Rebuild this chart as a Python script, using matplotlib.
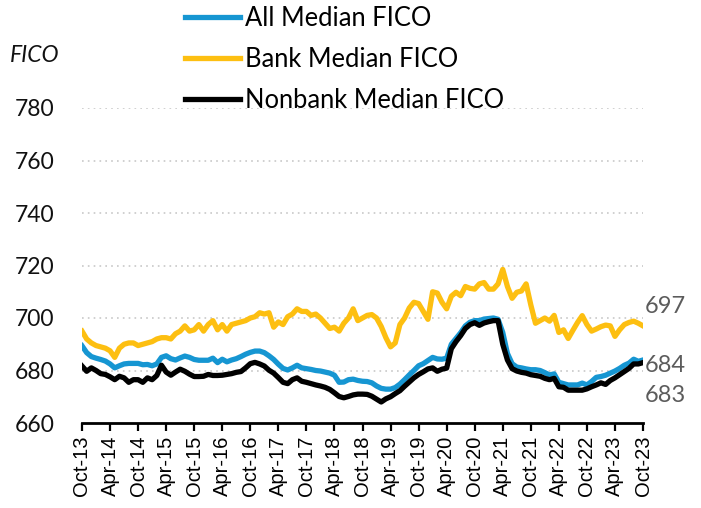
import numpy as np
import pandas as pd
import matplotlib
matplotlib.use('Agg')
import matplotlib.pyplot as plt

# monthly medians, Oct-13 to Oct-23
allMedian = [689.4, 686.8, 685.3, 684.7, 684.2, 683.6, 682.5, 681.0, 681.8, 682.5,
	682.7, 682.7, 682.7, 682.2, 682.3, 681.8, 682.5, 685.0, 685.6, 684.5,
	684.0, 684.8, 685.5, 685.0, 684.2, 683.9, 683.9, 683.9, 684.7, 683.0,
	684.3, 683.3, 684.0, 684.5, 685.3, 686.2, 686.9, 687.4, 687.4, 686.8,
	685.6, 684.2, 682.4, 680.8, 680.2, 681.0, 682.0, 681.0, 680.7, 680.4,
	680.0, 679.8, 679.4, 679.0, 678.2, 675.5, 675.6, 676.5, 676.7, 676.2,
	675.9, 675.8, 675.3, 674.1, 673.2, 672.9, 672.9, 673.5, 674.8, 676.5,
	678.3, 680.0, 681.8, 682.6, 683.8, 685.0, 684.4, 684.3, 684.7, 690.0,
	692.2, 694.4, 697.0, 698.4, 699.0, 699.0, 699.6, 699.8, 700.0, 699.5,
	694.5, 686.5, 682.6, 681.3, 681.0, 680.6, 680.3, 680.3, 680.0, 679.2,
	678.3, 678.7, 675.5, 675.0, 674.5, 674.5, 674.5, 675.2, 674.5, 675.8,
	677.4, 677.7, 678.2, 679.0, 679.8, 680.8, 682.0, 682.8, 684.3, 683.5,
	684.0]
bankMedian = [695.0, 692.0, 690.5, 689.5, 689.0, 688.5, 687.5, 685.0, 688.5, 690.0,
	690.5, 690.5, 689.5, 690.0, 690.5, 691.0, 692.0, 692.5, 692.5, 692.0,
	694.0, 695.0, 697.0, 695.0, 695.5, 697.5, 695.0, 697.5, 699.0, 695.5,
	697.5, 695.0, 697.5, 698.0, 698.5, 699.0, 700.0, 700.5, 702.0, 701.5,
	702.0, 696.5, 698.5, 697.5, 700.5, 701.5, 703.5, 702.5, 702.5, 701.0,
	701.5, 700.0, 698.0, 696.0, 696.5, 695.0, 698.0, 700.0, 703.5, 699.0,
	700.0, 701.0, 701.3, 700.0, 696.8, 692.5, 689.0, 690.5, 697.5, 700.0,
	703.8, 706.0, 705.5, 702.5, 699.5, 710.0, 709.5, 706.0, 703.5, 708.3,
	709.8, 708.5, 712.0, 711.3, 711.0, 713.0, 713.5, 711.0, 711.0, 713.0,
	718.5, 712.0, 707.5, 709.8, 710.3, 713.0, 705.0, 698.0, 699.0, 700.0,
	698.8, 701.0, 694.5, 695.5, 692.2, 695.3, 698.3, 700.9, 697.5, 695.0,
	695.8, 696.7, 697.3, 697.0, 693.0, 695.5, 697.5, 698.3, 698.8, 698.0,
	697.0]
nonbankMedian = [681.7, 679.7, 681.0, 680.0, 678.8, 678.5, 677.6, 676.5, 677.8, 677.2,
	675.5, 676.5, 676.5, 675.5, 677.2, 676.5, 678.1, 682.0, 679.4, 678.2,
	679.4, 680.5, 679.7, 678.6, 677.7, 677.7, 677.8, 678.5, 678.1, 678.1,
	678.2, 678.5, 678.8, 679.3, 679.6, 681.0, 682.6, 683.1, 682.5, 681.7,
	680.1, 679.0, 677.3, 675.5, 675.0, 676.5, 677.2, 675.9, 675.5, 675.0,
	674.5, 674.1, 673.6, 672.8, 671.5, 670.1, 669.6, 670.1, 670.7, 671.0,
	671.0, 670.9, 670.2, 669.1, 668.0, 669.2, 670.0, 671.2, 672.3, 674.0,
	675.6, 677.2, 678.5, 679.5, 680.6, 681.0, 679.7, 680.5, 680.9, 688.3,
	691.0, 693.3, 696.0, 697.5, 698.2, 697.2, 698.1, 698.6, 699.0, 699.0,
	690.0, 684.0, 680.7, 679.8, 679.3, 679.0, 678.4, 678.1, 677.8, 677.0,
	676.5, 677.0, 673.8, 673.6, 672.5, 672.5, 672.5, 672.5, 673.0, 673.8,
	674.5, 675.3, 674.7, 676.2, 677.2, 678.4, 679.6, 680.8, 682.5, 682.5,
	683.0]
months = pd.date_range('2013-10-01', periods=len(allMedian), freq='MS')
seriesNames = ['All Median FICO', 'Bank Median FICO', 'Nonbank Median FICO']
seriesColors = ['#1696d2', '#fdbf11', '#000000']

plt.rcParams['font.family'] = ['Lato', 'DejaVu Sans']
fig = plt.figure(figsize=(7.01, 5.08), dpi=100)
ax = fig.add_axes([82/701, 85/508, 561/701, 315/508])

x = np.arange(len(months))
for vals, name, col in zip([allMedian, bankMedian, nonbankMedian], seriesNames, seriesColors):
	ax.plot(x, vals, color=col, lw=3.8, label=name, solid_joinstyle='round')

ax.set_xlim(0, len(months) - 1)
ax.set_ylim(660, 780)
ax.set_yticks(np.arange(660, 781, 20))
for yv in np.arange(680, 781, 20):
	ax.axhline(yv, color='#c8c8c8', lw=1.2, ls=(0, (1, 2.5)), zorder=0)
ax.tick_params(axis='y', length=0, pad=20, labelsize=16.5, labelcolor='#111111')

tickPos = x[::6]
ax.set_xticks(tickPos)
ax.set_xticklabels([d.strftime('%b-%y') for d in months[::6]], rotation=90,
	fontfamily='Liberation Sans', fontsize=14.5)
ax.tick_params(axis='x', direction='out', length=6, width=1.6, pad=3)
for s in ['top', 'right', 'left']:
	ax.spines[s].set_visible(False)
ax.spines['bottom'].set_linewidth(2)

# end labels
endOffsets = [-4, 14, -24]
for vals, off in zip([allMedian, bankMedian, nonbankMedian], endOffsets):
	ax.annotate(f'{vals[-1]:.0f}', xy=(x[-1], vals[-1]), xytext=(1, off),
		textcoords='offset points', ha='left', va='center',
		fontsize=17, color='#5c5c5c', annotation_clip=False)

fig.text(10/701, 1 - 56/508, 'FICO', fontsize=16.5, fontstyle='italic',
	ha='left', va='center', color='#111111')
leg = fig.legend(loc='upper left', bbox_to_anchor=(185/701, 1 - 6/508), frameon=False,
	fontsize=18.4, handlelength=2.14, handletextpad=0.2, labelspacing=0.63,
	borderpad=0, borderaxespad=0)

plt.savefig('out.png', dpi=100)
